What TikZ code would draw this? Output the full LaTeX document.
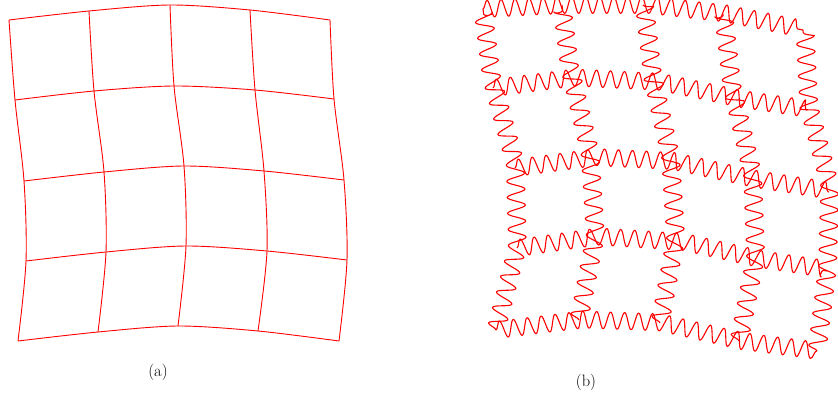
\documentclass[tikz,border=0pt]{standalone}
\usetikzlibrary{decorations.pathmorphing}
\begin{document}
\begin{tikzpicture}[x=1pt,y=-1pt,
  gridline/.style={red, line width=0.9pt, line join=round},
  wavyh/.style={red, line width=1.1pt, line join=round, decorate,
    decoration={snake, amplitude=8.5pt, segment length=14pt}},
  wavyv/.style={red, line width=1.1pt, line join=round, decorate,
    decoration={snake, amplitude=9pt, segment length=16pt}},
  caption/.style={font=\fontsize{16.5}{19}\selectfont, inner sep=0pt}]
\useasboundingbox (0,0) rectangle (838,398);
% ---- grid (a) ----
\coordinate (a00) at (9,20);   \coordinate (a01) at (89,11);  \coordinate (a02) at (170,5);   \coordinate (a03) at (250,10);  \coordinate (a04) at (330,20);
\coordinate (a10) at (15,100); \coordinate (a11) at (94,91);  \coordinate (a12) at (174,86);  \coordinate (a13) at (255,90);  \coordinate (a14) at (334,99);
\coordinate (a20) at (24,181); \coordinate (a21) at (104,172);\coordinate (a22) at (184,166); \coordinate (a23) at (264,171); \coordinate (a24) at (344,180);
\coordinate (a30) at (26,261); \coordinate (a31) at (106,252);\coordinate (a32) at (186,246); \coordinate (a33) at (267,251); \coordinate (a34) at (347,260);
\coordinate (a40) at (18,341); \coordinate (a41) at (98,332); \coordinate (a42) at (178,326); \coordinate (a43) at (258,331); \coordinate (a44) at (339,341);
\foreach \i in {0,...,4}{
  \draw[gridline] plot[smooth, tension=0.5] coordinates {(a\i0) (a\i1) (a\i2) (a\i3) (a\i4)};
  \draw[gridline] plot[smooth, tension=0.5] coordinates {(a0\i) (a1\i) (a2\i) (a3\i) (a4\i)};
}
% ---- grid (b) ----
\coordinate (b00) at (483,9);   \coordinate (b01) at (562,5);   \coordinate (b02) at (643,5);   \coordinate (b03) at (723,14);  \coordinate (b04) at (803,30);
\coordinate (b10) at (493,88);  \coordinate (b11) at (571,78);  \coordinate (b12) at (652,82);  \coordinate (b13) at (733,99);  \coordinate (b14) at (807,110);
\coordinate (b20) at (515,168); \coordinate (b21) at (590,158); \coordinate (b22) at (670,162); \coordinate (b23) at (752,180); \coordinate (b24) at (829,192);
\coordinate (b30) at (517,248); \coordinate (b31) at (595,237); \coordinate (b32) at (675,242); \coordinate (b33) at (755,260); \coordinate (b34) at (827,271);
\coordinate (b40) at (496,330); \coordinate (b41) at (579,320); \coordinate (b42) at (660,323); \coordinate (b43) at (739,341); \coordinate (b44) at (817,351);
\foreach \i in {0,...,4}{
  \draw[wavyh] (b\i0) -- (b\i1) -- (b\i2) -- (b\i3) -- (b\i4);
  \draw[wavyv] (b4\i) -- (b3\i) -- (b2\i) -- (b1\i) -- (b0\i);
}
% ---- captions ----
\node[caption] (capa) at (158,372) {(a)};
\node[caption] (capb) at (586,382) {(b)};
\end{tikzpicture}
\end{document}
